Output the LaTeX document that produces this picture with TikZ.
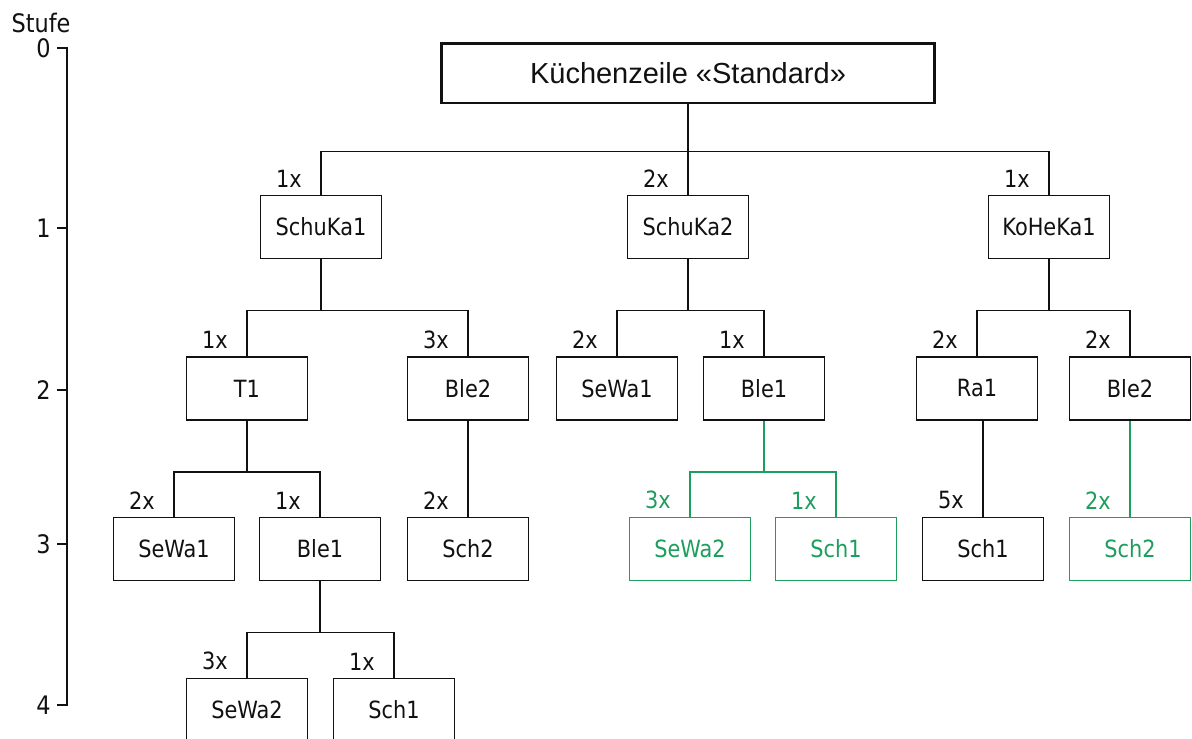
\documentclass[tikz,border=0pt]{standalone}
\usepackage{fontspec}
\setmainfont{DejaVu Sans}[FakeStretch=0.88]
\newfontfamily\headfont{Liberation Sans}
\usetikzlibrary{positioning}
\definecolor{stkInk}{HTML}{111111}
\definecolor{stkGreen}{HTML}{1E9E5E}
\tikzset{
  part/.style   = {draw=stkInk, line width=1.1pt, fill=white, text=stkInk,
                   minimum width=2.42cm, minimum height=1.26cm, inner sep=0pt,
                   font=\fontsize{13.5}{15}\selectfont},
  partg/.style  = {part, draw=stkGreen, text=stkGreen},
  headbox/.style= {part, line width=1.7pt, minimum width=9.88cm,
                   minimum height=1.2cm, font=\headfont\fontsize{16.5}{19}\selectfont},
  lnk/.style    = {draw=stkInk, line width=1pt},
  lnkg/.style   = {lnk, draw=stkGreen},
  qty/.style    = {font=\fontsize{13.5}{15}\selectfont, text=stkInk,
                   anchor=south east, inner sep=0pt},
  qtyg/.style   = {qty, text=stkGreen},
  lvl/.style    = {font=\fontsize{14.5}{16}\selectfont, text=stkInk,
                   anchor=east, inner sep=0pt},
}

\begin{document}
\begin{tikzpicture}[x=0.02cm, y=-0.02cm]
  \useasboundingbox (0,0) rectangle (1192,738);
  \clip (0,0) rectangle (1192,738);

  % Stufen-Achse
  \node[lvl, anchor=center] (stufe) at (41,23) {Stufe};
  \coordinate (ax0) at (67,47);
  \coordinate (ax4) at (67,706);
  \draw[stkInk, line width=1.7pt] (ax0) -- (ax4);
  \foreach \l/\y in {0/48, 1/228, 2/390, 3/544, 4/705}{%
    \coordinate (tk\l) at (67,\y);
    \draw[stkInk, line width=0.8pt] (tk\l) -- ++(-10,0);
    \node[lvl] (lv\l) at (51,\y) {\l};}

  % Baugruppen
  \node[headbox] (kz) at (688,73) {Küchenzeile «Standard»};
  \foreach \n/\x/\y/\t/\s in {sk1/321/227/SchuKa1/part, sk2/688/227/SchuKa2/part,
      khk1/1049/227/KoHeKa1/part,
      t1/247/388.5/T1/part, ble2a/468/388.5/Ble2/part, sewa1b/617/388.5/SeWa1/part,
      ble1b/764/388.5/Ble1/part, ra1/977/388.5/Ra1/part, ble2c/1130/388.5/Ble2/part,
      sewa1a/174/549/SeWa1/part, ble1a/320/549/Ble1/part, sch2a/468/549/Sch2/part,
      sewa2b/690/549/SeWa2/partg, sch1b/836/549/Sch1/partg, sch1c/983/549/Sch1/part,
      sch2c/1130/549/Sch2/partg,
      sewa2a/247/710/SeWa2/part, sch1a/394/710/Sch1/part}{%
    \node[\s] (\n) at (\x,\y) {\t};}

  % Verbindungen
  \draw[lnk] (kz.south) -- ++(0,47) coordinate (jkz);
  \foreach \c in {sk1, sk2, khk1}
    \draw[lnk] (jkz) -| (\c.north);
  \foreach \p/\c/\s in {sk1/t1/lnk, sk1/ble2a/lnk, sk2/sewa1b/lnk, sk2/ble1b/lnk,
      khk1/ra1/lnk, khk1/ble2c/lnk, t1/sewa1a/lnk, t1/ble1a/lnk, ble2a/sch2a/lnk,
      ble1b/sewa2b/lnkg, ble1b/sch1b/lnkg, ble2c/sch2c/lnkg,
      ble1a/sewa2a/lnk, ble1a/sch1a/lnk}
    \draw[\s] (\p.south) -- ++(0,51) -| (\c.north);
  \draw[lnk] (sch1c.north) -- (sch1c.north |- ra1.south);

  % Mengen
  \foreach \c/\q/\s in {sk1/1x/qty, sk2/2x/qty, khk1/1x/qty,
      t1/1x/qty, ble2a/3x/qty, sewa1b/2x/qty, ble1b/1x/qty, ra1/2x/qty, ble2c/2x/qty,
      sewa1a/2x/qty, ble1a/1x/qty, sch2a/2x/qty, sewa2b/3x/qtyg, sch1b/1x/qtyg,
      sch1c/5x/qty, sch2c/2x/qtyg, sewa2a/3x/qty, sch1a/1x/qty}{%
    \node[\s] (q-\c) at ([shift={(-19,-7)}]\c.north) {\q};}
\end{tikzpicture}
\end{document}
